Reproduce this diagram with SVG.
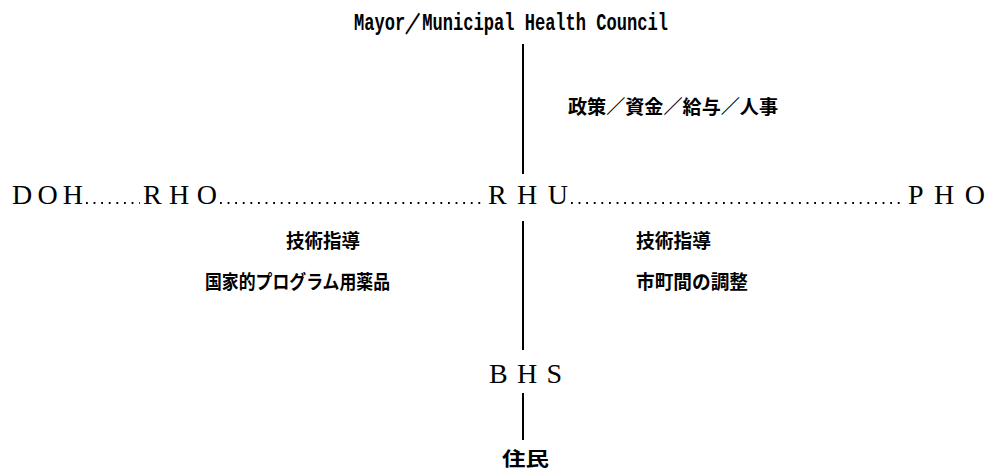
<svg xmlns="http://www.w3.org/2000/svg" width="995" height="472" viewBox="0 0 995 472">
<style>
.lat{font-family:"Liberation Serif","Times New Roman",serif;font-size:28px;fill:#000}
.ttl{font-family:"Liberation Mono","DejaVu Sans Mono",monospace;font-size:24px;font-weight:bold;fill:#000}
.jp{font-family:"Noto Sans CJK JP","Noto Sans CJK SC",sans-serif;font-size:19px;font-weight:bold;fill:#000}
.ln{stroke:#000;stroke-width:2;fill:none}
.dot{stroke:#000;stroke-width:1.8;stroke-dasharray:1.8 5.8;fill:none}
</style>
<rect width="995" height="472" fill="#fff"/>
<g id="connectors">
<line class="ln" x1="523" y1="44" x2="523" y2="174"/>
<line class="ln" x1="523" y1="221" x2="523" y2="350"/>
<line class="ln" x1="523" y1="393" x2="523" y2="440"/>
<line class="dot" x1="86" y1="203" x2="140" y2="203"/>
<line class="dot" x1="220" y1="203" x2="486" y2="203"/>
<line class="dot" x1="571" y1="203" x2="905" y2="203"/>
</g>
<g id="mayor"><text class="ttl" x="354" y="30" textLength="314" lengthAdjust="spacingAndGlyphs">Mayor／Municipal Health Council</text></g>
<g id="policy"><text class="jp" x="568" y="114" font-size="20" textLength="210" lengthAdjust="spacingAndGlyphs">政策／資金／給与／人事</text></g>
<g id="doh"><text class="lat" x="12" y="204" textLength="71" lengthAdjust="spacing">DOH</text></g>
<g id="rho"><text class="lat" x="143" y="204" textLength="74" lengthAdjust="spacing">RHO</text></g>
<g id="rhu"><text class="lat" x="488" y="204" textLength="80" lengthAdjust="spacing">RHU</text></g>
<g id="pho"><text class="lat" x="908" y="204" textLength="77" lengthAdjust="spacing">PHO</text></g>
<g id="left-label">
<text class="jp" x="286" y="248" textLength="74" lengthAdjust="spacingAndGlyphs">技術指導</text>
<text class="jp" x="205" y="289" textLength="185" lengthAdjust="spacingAndGlyphs">国家的プログラム用薬品</text>
</g>
<g id="right-label">
<text class="jp" x="636" y="248" textLength="75" lengthAdjust="spacingAndGlyphs">技術指導</text>
<text class="jp" x="636" y="289" textLength="112" lengthAdjust="spacingAndGlyphs">市町間の調整</text>
</g>
<g id="bhs"><text class="lat" x="489" y="383" textLength="73" lengthAdjust="spacing">BHS</text></g>
<g id="residents"><text class="jp" x="502" y="466" font-size="22" textLength="47" lengthAdjust="spacingAndGlyphs">住民</text></g>
</svg>
